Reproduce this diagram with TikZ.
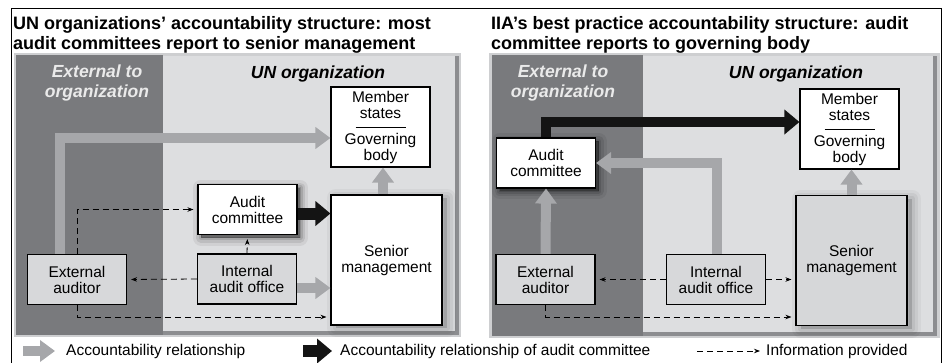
\documentclass[tikz,border=0pt]{standalone}
\usepackage{fontspec}
\setmainfont{Liberation Sans}
\usetikzlibrary{arrows.meta,calc,shadows}

\definecolor{extgray}{RGB}{121,122,125}
\definecolor{orggray}{RGB}{221,222,224}
\definecolor{rimgray}{RGB}{206,207,209}
\definecolor{stripgray}{RGB}{140,141,144}
\definecolor{acctgray}{RGB}{166,167,170}
\definecolor{boxgray}{RGB}{215,216,218}
\definecolor{headwhite}{RGB}{234,234,234}

\tikzset{
  acct/.style={draw=acctgray, line width=10pt, -{Triangle[length=15pt,width=21pt]}},
  acctac/.style={draw=black!92, line width=12pt, -{Triangle[length=15pt,width=24pt]}},
  info/.style={draw=black, line width=0.8pt, dash pattern=on 6pt off 4pt, shorten >=4pt,
    -{Stealth[length=6pt,width=4.5pt]}},
  unit/.style={draw=black, line width=1.1pt, inner sep=0pt, align=center,
    font=\fontsize{15.5}{16}\selectfont},
  unitw/.style={unit, fill=white},
  unitg/.style={unit, fill=boxgray},
  small/.style={minimum width=99pt, minimum height=50pt},
  shade/.style n args={3}{general shadow={fill=black, draw=black, line join=round,
    line width=#1, opacity=#2, shadow xshift=#3, shadow yshift=-3pt}},
  senior/.style={minimum width=111pt, minimum height=130pt,
    shade={18pt}{0.04}{5pt}, shade={12pt}{0.05}{5pt}, shade={6pt}{0.06}{5pt}},
  acshadow/.style={shade={16pt}{0.06}{3pt}, shade={10pt}{0.09}{3pt},
    shade={5pt}{0.12}{3pt}, shade={1pt}{0.15}{3pt}},
  title/.style={anchor=north west, inner sep=0pt, align=left,
    font=\fontsize{18}{20}\selectfont\bfseries},
  head/.style={anchor=north, inner sep=0pt, align=center,
    font=\fontsize{17.5}{20}\selectfont\bfseries\itshape},
  legtext/.style={anchor=west, inner sep=0pt, font=\fontsize{15.5}{17}\selectfont}
}

\begin{document}
\begin{tikzpicture}[x=1pt,y=1pt]
\useasboundingbox (0,0) rectangle (946,-362);
\draw[line width=1pt] (11,-365) -- (11,-8) -- (941,-8) -- (941,-365);

% left panel
\fill[rimgray] (14,-53) rectangle (461,-337);
\fill[extgray] (16,-55) rectangle (163,-335);
\fill[stripgray] (163,-56) rectangle (459,-335);
\fill[orggray] (163,-56) rectangle (455,-331);
% right panel
\fill[rimgray] (489,-53) rectangle (940,-338);
\fill[extgray] (492,-55) rectangle (643,-336);
\fill[stripgray] (643,-56) rectangle (937,-336);
\fill[orggray] (643,-56) rectangle (933,-332);

\node[title] (ttlL) at (13,-16) {UN organizations’ accountability structure: most\\audit committees report to senior management};
\node[title] (ttlR) at (491,-16) {IIA’s best practice accountability structure: audit\\committee reports to governing body};

\node[head, text=headwhite] (extL) at (97,-65) {External to\\organization};
\node[head] (orgL) at (318,-66) {UN organization};
\node[head, text=headwhite] (extR) at (563,-65) {External to\\organization};
\node[head] (orgR) at (796,-66) {UN organization};

% left: UN organizations
\node[unitw, minimum width=99pt, minimum height=80pt] (gbL) at (380.5,-127) {Member\\states\\[10pt]Governing\\body};
\draw[line width=0.8pt] ([xshift=-25pt]gbL.center) -- ([xshift=25pt]gbL.center);
\node[unitw, small, acshadow] (acL) at (247.5,-209.5) {Audit\\committee};
\node[unitw, senior] (smL) at (386.5,-260) {Senior\\management};
\node[unitg, small] (eaL) at (77,-279.5) {External\\auditor};
\node[unitg, small] (iaL) at (247,-279) {Internal\\audit office};
\coordinate (lowL) at (0,-317);

\draw[acct] ([xshift=-17pt]eaL.north) |- ([yshift=-11pt]gbL.west);
\draw[acct] ([xshift=-3.5pt]smL.north) -- ([xshift=-3.5pt]smL.north |- gbL.south);
\draw[acct] ([yshift=-9pt]iaL.east) -- ([yshift=-9pt]iaL.east -| smL.west);
\draw[acctac] ([yshift=-4pt]acL.east) -- ([yshift=-4pt]acL.east -| smL.west);
\draw[info] (eaL.north) |- (acL.west);
\draw[info] (iaL.west) -- (eaL.east);
\draw[info] (iaL.north) -- (acL.south);
\draw[info] (eaL.south) |- (lowL -| smL.west);

% right: IIA best practice
\node[unitw, minimum width=99pt, minimum height=80pt] (gbR) at (849.5,-129) {Member\\states\\[10pt]Governing\\body};
\draw[line width=0.8pt] ([xshift=-25pt]gbR.center) -- ([xshift=25pt]gbR.center);
\node[unitw, small, acshadow] (acR) at (546,-163) {Audit\\committee};
\node[unitg, senior, fill=orggray!97!black] (smR) at (851.5,-260.5) {Senior\\management};
\node[unitg, small] (eaR) at (545.5,-279.5) {External\\auditor};
\node[unitg, small] (iaR) at (716,-279.5) {Internal\\audit office};
\coordinate (lowR) at (0,-317);

\draw[acct] (eaR.north) -- (acR.south);
\draw[acct] ([xshift=1pt]iaR.north) |- (acR.east);
\draw[acct] (smR.north) -- (smR.north |- gbR.south);
\draw[acctac, line width=10pt] (acR.north) |- ([yshift=7pt]gbR.west);
\draw[info] (iaR.west) -- (eaR.east);
\draw[info] (iaR.east) -- (iaR.east -| smR.west);
\draw[info] (eaR.south) |- (lowR -| smR.west);

% legend
\node[legtext] (lgAcc) at (66,-351) {Accountability relationship};
\node[legtext] (lgAc) at (340,-351) {Accountability relationship of audit committee};
\node[legtext] (lgInfo) at (766,-351) {Information provided};
\draw[acct] ([xshift=-43pt]lgAcc.west) -- ([xshift=-11pt]lgAcc.west);
\draw[acctac] ([xshift=-37pt]lgAc.west) -- ([xshift=-8pt]lgAc.west);
\draw[info, shorten >=0pt] ([xshift=-69pt]lgInfo.west) -- ([xshift=-6pt]lgInfo.west);
\end{tikzpicture}
\end{document}
